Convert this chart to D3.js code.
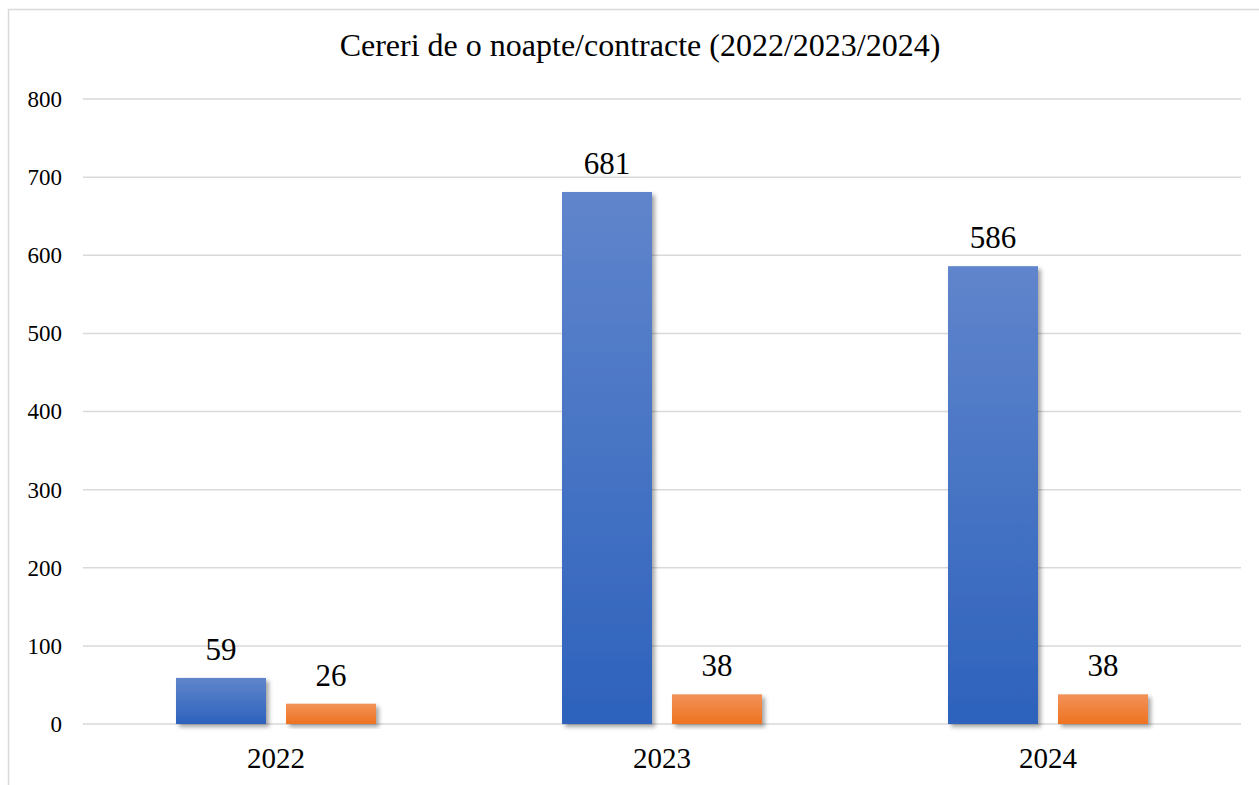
<!DOCTYPE html>
<html>
<head>
<meta charset="utf-8">
<script src="https://cdn.jsdelivr.net/npm/d3@7"></script>
<style>
  body { margin: 0; background: #fff; }
  svg text { font-family: "Liberation Serif", "DejaVu Serif", serif !important; fill: #000; }
</style>
</head>
<body>
<svg id="chart" width="1259" height="785"></svg>
<script>
const years = ["2022", "2023", "2024"];
const series = ["cereri", "contracte"];
const cereri = [59, 681, 586];
const contracte = [26, 38, 38];
const yTicks = [0, 100, 200, 300, 400, 500, 600, 700, 800];
const title = "Cereri de o noapte/contracte (2022/2023/2024)";

const svg = d3.select("#chart");
const plot = { left: 83, right: 1241, top: 99, bottom: 724 };

const defs = svg.append("defs");
const grad = (id, top, bottom) => {
  const g = defs.append("linearGradient").attr("id", id)
    .attr("x1", 0).attr("y1", 0).attr("x2", 0).attr("y2", 1);
  g.append("stop").attr("offset", 0).attr("stop-color", top);
  g.append("stop").attr("offset", 1).attr("stop-color", bottom);
};
grad("g-cereri", "#6085cc", "#2d62bc");
grad("g-contracte", "#f29259", "#ee7320");

defs.append("filter").attr("id", "shadow")
  .attr("x", "-20%").attr("y", "-20%").attr("width", "140%").attr("height", "140%")
  .append("feDropShadow")
  .attr("dx", 3).attr("dy", 3).attr("stdDeviation", 2)
  .attr("flood-color", "#000").attr("flood-opacity", 0.35);

// frame
svg.append("rect")
  .attr("x", 8.5).attr("y", 9.5).attr("width", 1300).attr("height", 900)
  .attr("fill", "none").attr("stroke", "#d9d9d9").attr("stroke-width", 1.5);

svg.append("text")
  .attr("x", 640).attr("y", 56)
  .attr("text-anchor", "middle")
  .style("font-size", "32px")
  .text(title);

const x = d3.scaleBand().domain(years).range([plot.left, plot.right]);
const xInner = d3.scaleBand().domain(series).range([0, 200]).paddingInner(20 / 110);
const y = d3.scaleLinear().domain([0, 800]).range([plot.bottom, plot.top]);

// gridlines
svg.append("g").selectAll("line").data(yTicks).join("line")
  .attr("x1", plot.left).attr("x2", plot.right)
  .attr("y1", d => y(d)).attr("y2", d => y(d))
  .attr("stroke", "#d9d9d9").attr("stroke-width", 1.5);

// y axis labels
const yAxis = svg.append("g")
  .attr("transform", `translate(${plot.left - 21},0)`)
  .call(d3.axisLeft(y).tickValues(yTicks).tickSize(0).tickPadding(0));
yAxis.select(".domain").remove();
yAxis.selectAll("text")
  .style("font-size", "23px")
  .attr("fill", "#000");

// x axis labels
const xAxis = svg.append("g")
  .attr("transform", `translate(0,${plot.bottom})`)
  .call(d3.axisBottom(x).tickSize(0));
xAxis.select(".domain").remove();
xAxis.selectAll("text")
  .attr("y", 44).attr("dy", 0)
  .style("font-size", "29px")
  .attr("fill", "#000");

const rows = years.map((yr, i) => ({ year: yr, cereri: cereri[i], contracte: contracte[i] }));

const groups = svg.append("g").selectAll("g").data(rows).join("g")
  .attr("transform", d => `translate(${x(d.year) + x.bandwidth() / 2 - 100},0)`);

groups.selectAll("rect")
  .data(d => series.map(s => ({ key: s, value: d[s] })))
  .join("rect")
  .attr("x", d => xInner(d.key))
  .attr("width", xInner.bandwidth())
  .attr("y", d => y(d.value))
  .attr("height", d => y(0) - y(d.value))
  .attr("fill", d => `url(#g-${d.key})`)
  .attr("filter", "url(#shadow)");

groups.selectAll("text.val")
  .data(d => series.map(s => ({ key: s, value: d[s] })))
  .join("text")
  .attr("class", "val")
  .attr("x", d => xInner(d.key) + xInner.bandwidth() / 2)
  .attr("y", d => y(d.value) - 18)
  .attr("text-anchor", "middle")
  .style("font-size", "31px")
  .text(d => d.value);
</script>
</body>
</html>
